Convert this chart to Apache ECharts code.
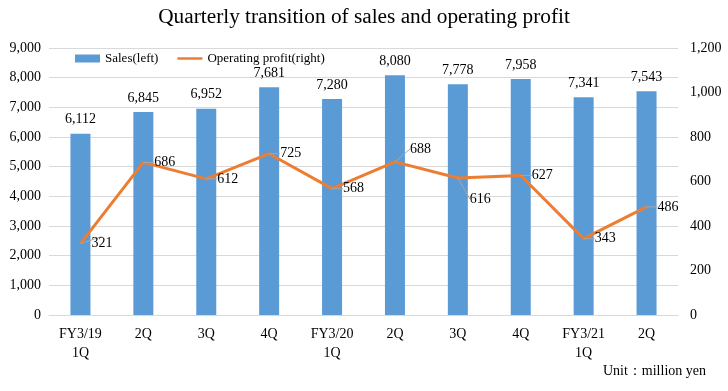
<!DOCTYPE html>
<html><head><meta charset="utf-8">
<script src="https://cdn.jsdelivr.net/npm/echarts@6/dist/echarts.min.js"></script>
<style>html,body{margin:0;padding:0;background:#fff}#c{width:728px;height:391px}</style>
</head><body><div id="c"></div>
<script>
var categories = ['FY3/19\n1Q','2Q','3Q','4Q','FY3/20\n1Q','2Q','3Q','4Q','FY3/21\n1Q','2Q'];
var sales = [6112,6845,6952,7681,7280,8080,7778,7958,7341,7543];
var profit = [321,686,612,725,568,688,616,627,343,486];
var leftTicks = {min:0,max:9000,interval:1000};
var rightTicks = {min:0,max:1200,interval:200};
var F = '"Liberation Serif","Times New Roman",serif';
var chart = echarts.init(document.getElementById('c'));
chart.setOption({
  animation:false,
  textStyle:{fontFamily:F},
  title:{text:'Quarterly transition of sales and operating profit',left:'center',top:2,
    textStyle:{fontFamily:F,fontSize:21.3,fontWeight:'normal',color:'#000'}},
  legend:{top:47,left:70,itemGap:19,itemWidth:25,itemHeight:8,
    textStyle:{fontFamily:F,fontSize:13,color:'#000'},
    data:[{name:'Sales(left)',icon:'rect'},{name:'Operating profit(right)',icon:'path://M0,0 L10,0 L10,1 L0,1 Z'}]},
  grid:{left:49,right:50,top:48,bottom:76},
  xAxis:{type:'category',data:categories,
    axisLine:{lineStyle:{color:'#d9d9d9'}},axisTick:{show:false},
    axisLabel:{fontFamily:F,fontSize:14,color:'#000',margin:10,lineHeight:19}},
  yAxis:[
    {type:'value',min:leftTicks.min,max:leftTicks.max,interval:leftTicks.interval,
     axisLabel:{fontFamily:F,fontSize:14,color:'#000',formatter:function(v){return v.toLocaleString('en-US');}},
     splitLine:{lineStyle:{color:'#d9d9d9'}},axisLine:{show:false},axisTick:{show:false}},
    {type:'value',min:rightTicks.min,max:rightTicks.max,interval:rightTicks.interval,
     axisLabel:{fontFamily:F,fontSize:14,color:'#000',margin:12,formatter:function(v){return v.toLocaleString('en-US');}},
     splitLine:{show:false},axisLine:{show:false},axisTick:{show:false}}
  ],
  series:[
    {name:'Sales(left)',type:'bar',data:sales,barWidth:20,
     itemStyle:{color:'#5b9bd5'},
     label:{show:true,position:'top',distance:7,fontFamily:F,fontSize:14,color:'#000',
       formatter:function(p){return p.value.toLocaleString('en-US');}}},
    {name:'Operating profit(right)',type:'line',yAxisIndex:1,data:profit,
     symbol:'circle',symbolSize:0,showSymbol:true,
     lineStyle:{color:'#ed7d31',width:3},itemStyle:{color:'#ed7d31'},
     label:{show:true,position:'right',distance:11,fontFamily:F,fontSize:14,color:'#000'},
     labelLine:{show:true,lineStyle:{color:'#a6a6a6',width:1}},
     labelLayout:function(p){
       if(p.dataIndex===5){return {dx:4,dy:-13};}
       if(p.dataIndex===6){return {dx:1,dy:21};}
       return {};
     }}
  ],
  graphic:[{type:'text',right:22,top:364,style:{text:'Unit\uff1amillion yen',font:'14px '+F,fill:'#000'}}]
});
</script></body></html>
